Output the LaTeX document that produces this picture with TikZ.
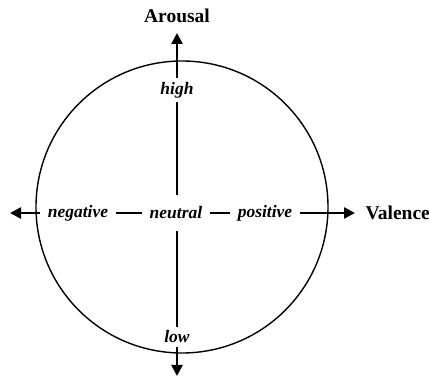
\documentclass[tikz,border=0pt]{standalone}
\usepackage{fontspec}
\setmainfont{Liberation Serif}
\usetikzlibrary{arrows.meta, positioning}

\begin{document}
\begin{tikzpicture}[x=1pt, y=-1pt,
      axis/.style={{Triangle[length=11pt,width=11pt]}-{Triangle[length=11pt,width=11pt]}, line width=2.4pt},
      pole/.style={fill=white, inner xsep=8pt, inner ysep=4pt, font=\fontsize{17.5}{20}\selectfont\bfseries\itshape},
      title/.style={font=\fontsize{19.5}{22}\selectfont\bfseries}]
    \useasboundingbox (0,0) rectangle (429,379);
    \draw[line width=1.4pt] (182,207) circle[radius=146];
    \coordinate (top) at (177,33);
    \coordinate (bot) at (177,376);
    \coordinate (lft) at (10,213);
    \coordinate (rgt) at (355,213);
    \draw[axis] (bot) -- (top);
    \draw[axis] (lft) -- (rgt);
    \node[title] (aro) at (177,16) {Arousal};
    \node[title, anchor=west] (val) at (362,213) {Valence};
    \node[pole] (high) at (177,90) {high};
    \node[pole] (low)  at (177,337) {low};
    \node[pole] (neg)  at (78,213) {negative};
    \node[pole] (pos)  at (265,213) {positive};
    \node[pole, inner ysep=12pt] (neu) at (176,213) {neutral};
  \end{tikzpicture}
\end{document}
